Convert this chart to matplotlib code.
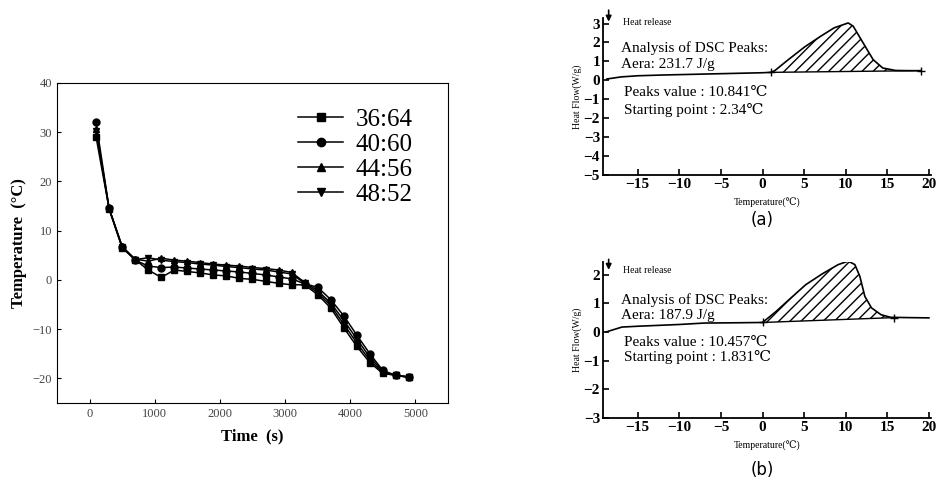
import matplotlib
matplotlib.use("Agg")
import matplotlib.pyplot as plt

SERIF = ["Liberation Serif", "DejaVu Serif"]

# left chart: cooling curves
time_s = [100, 300, 500, 700, 900, 1100, 1300, 1500, 1700, 1900, 2100, 2300, 2500,
          2700, 2900, 3100, 3300, 3500, 3700, 3900, 4100, 4300, 4500, 4700, 4900]
temp_36_64 = [29.0, 14.4, 6.5, 4.1, 2.0, 0.5, 2.0, 1.7, 1.4, 1.0, 0.8, 0.3, 0.1,
              -0.3, -0.7, -1.0, -1.0, -3.0, -5.7, -9.7, -13.5, -16.8, -19.0, -19.4, -19.8]
temp_40_60 = [32.0, 14.5, 6.7, 4.0, 2.8, 2.5, 2.6, 2.4, 2.2, 2.0, 1.8, 1.6, 1.3,
              1.0, 0.6, 0.2, -0.8, -1.5, -4.0, -7.3, -11.2, -15.0, -18.4, -19.4, -19.7]
temp_44_56 = [30.7, 14.5, 6.8, 4.2, 3.8, 4.4, 4.0, 3.8, 3.5, 3.2, 3.0, 2.8, 2.5,
              2.3, 2.0, 1.5, -0.5, -2.2, -4.7, -8.2, -12.0, -15.7, -18.6, -19.4, -19.7]
temp_48_52 = [30.2, 14.4, 6.6, 4.1, 4.5, 4.0, 3.7, 3.5, 3.2, 3.0, 2.7, 2.5, 2.2,
              2.0, 1.6, 1.2, -0.7, -2.6, -5.2, -9.0, -12.8, -16.3, -18.8, -19.4, -19.8]
series_labels = ["36:64", "40:60", "44:56", "48:52"]
series_markers = ["s", "o", "^", "v"]

# DSC scan (a)
dsc_a_x = [-18.7, -17, -15, -12, -10, -7, -5, -2, 0, 1.0, 1.5, 3.1, 5.05, 7.0,
           8.6, 10.3, 10.9, 12.1, 13.3, 14.45, 16.0, 17.5, 19.0]
dsc_a_y = [0.07, 0.18, 0.24, 0.28, 0.3, 0.33, 0.35, 0.38, 0.4, 0.42, 0.52, 1.09, 1.76,
           2.33, 2.77, 3.03, 2.86, 1.97, 1.09, 0.65, 0.52, 0.51, 0.51]
base_a = (1.0, 19.0, 0.42, 0.51)
text_a = ["Analysis of DSC Peaks:", "Aera: 231.7 J/g",
          "Peaks value : 10.841℃", "Starting point : 2.34℃"]
text_a_y = [1.72, 0.82, -0.64, -1.56]

# DSC scan (b)
dsc_b_x = [-18.8, -16.9, -14.9, -10, -7, -3, 0.0, 1.65, 3.2, 5.2, 7.2, 9.1, 10.3,
           11.1, 11.7, 12.3, 13.1, 14.25, 15.4, 17.5, 20.0]
dsc_b_y = [0.0, 0.17, 0.2, 0.26, 0.31, 0.32, 0.33, 0.72, 1.13, 1.65, 2.03, 2.35, 2.47,
           2.35, 1.94, 1.24, 0.84, 0.6, 0.51, 0.5, 0.49]
base_b = (0.0, 15.8, 0.33, 0.5)
text_b = ["Analysis of DSC Peaks:", "Aera: 187.9 J/g",
          "Peaks value : 10.457℃", "Starting point : 1.831℃"]
text_b_y = [1.12, 0.57, -0.37, -0.88]


def dsc_panel(ax, xs, ys, base, texts, text_y, ylim, yticks, arrow_y, tag, tag_y):
    x0, x1, y0, y1 = base
    ax.plot(xs, ys, color="black", lw=1.2)
    # hatched peak area above a straight baseline
    px = [x for x in xs if x0 <= x <= x1]
    py = [y for x, y in zip(xs, ys) if x0 <= x <= x1]
    bl = [y0 + (y1 - y0) * (x - x0) / (x1 - x0) for x in px]
    ax.fill_between(px, bl, py, facecolor="none", edgecolor="black",
                    hatch="///", lw=0)
    ax.plot([x0, x1], [y0, y1], color="black", lw=1.0)
    ax.plot([x0, x1], [y0, y1], "+", color="black", ms=6, mew=1)
    ax.set_xlim(-19.2, 20.2)
    ax.set_ylim(*ylim)
    ax.set_xticks([-15, -10, -5, 0, 5, 10, 15, 20])
    ax.set_xticklabels(["−15", "−10", "−5", "0", "5", "10", "15", "20"])
    ax.set_yticks(yticks)
    ax.set_yticklabels([str(v).replace("-", "−") for v in yticks])
    for s in ["top", "right"]:
        ax.spines[s].set_visible(False)
    for s in ["left", "bottom"]:
        ax.spines[s].set_linewidth(1.3)
    ax.tick_params(direction="in", length=4, width=1.2, pad=2)
    for lab in ax.get_xticklabels() + ax.get_yticklabels():
        lab.set_family(SERIF)
        lab.set_fontweight("bold")
        lab.set_fontsize(11)
    ax.set_xlabel("Temperature(℃)", family=SERIF, fontsize=7, labelpad=5)
    ax.set_ylabel("Heat Flow(W/g)", family=SERIF, fontsize=7, labelpad=1)
    ax.annotate("", xy=(-18.5, arrow_y[1]), xytext=(-18.5, arrow_y[0]),
                arrowprops=dict(arrowstyle="-|>", color="black", lw=1.2,
                                mutation_scale=8), annotation_clip=False)
    ax.text(-16.8, arrow_y[1] + 0.12 * (arrow_y[0] - arrow_y[1]), "Heat release",
            family=SERIF, fontsize=7, va="center", clip_on=False)
    for t, y in zip(texts, text_y):
        ax.text(-17.0 if t.startswith(("Ana", "Aer")) else -16.6, y, t,
                family=SERIF, fontsize=11, va="center")
    ax.text(0.0, tag_y, tag, fontsize=12, family="DejaVu Sans", ha="center",
            va="center", transform=ax.get_xaxis_transform())


fig = plt.figure(figsize=(9.39, 4.82), dpi=100)

ax = fig.add_axes([0.0607, 0.164, 0.4164, 0.664])
for vals, lab, mk in zip([temp_36_64, temp_40_60, temp_44_56, temp_48_52],
                         series_labels, series_markers):
    ax.plot(time_s, vals, color="black", lw=1.1, marker=mk, ms=5, label=lab)
ax.set_xlim(-500, 5500)
ax.set_ylim(-25, 40)
ax.set_xticks(range(0, 5001, 1000))
ax.set_yticks(range(-20, 41, 10))
ax.set_yticklabels([str(v).replace("-", "−") for v in range(-20, 41, 10)])
ax.tick_params(direction="in", length=3, labelsize=9, labelcolor="#444444")
for lab in ax.get_xticklabels() + ax.get_yticklabels():
    lab.set_family(SERIF)
ax.set_xlabel("Time  (s)", family=SERIF, fontweight="bold", fontsize=12, labelpad=6)
ax.set_ylabel("Temperature  (°C)", family=SERIF, fontweight="bold", fontsize=12,
              labelpad=4)
leg = ax.legend(loc="upper left", bbox_to_anchor=(0.56, 0.99), frameon=False,
                prop={"family": SERIF, "size": 18}, handlelength=1.8,
                handletextpad=0.5, labelspacing=0.1, markerscale=1.2)

ax_a = fig.add_axes([0.642, 0.637, 0.349, 0.326])
dsc_panel(ax_a, dsc_a_x, dsc_a_y, base_a, text_a, text_a_y, (-5, 3.3),
          [-5, -4, -3, -2, -1, 0, 1, 2, 3], (3.85, 2.95), "(a)", -0.287)

ax_b = fig.add_axes([0.642, 0.133, 0.349, 0.324])
dsc_panel(ax_b, dsc_b_x, dsc_b_y, base_b, text_b, text_b_y, (-3, 2.45),
          [-3, -2, -1, 0, 1, 2], (2.63, 2.07), "(b)", -0.333)

fig.savefig("out.png", dpi=100)
